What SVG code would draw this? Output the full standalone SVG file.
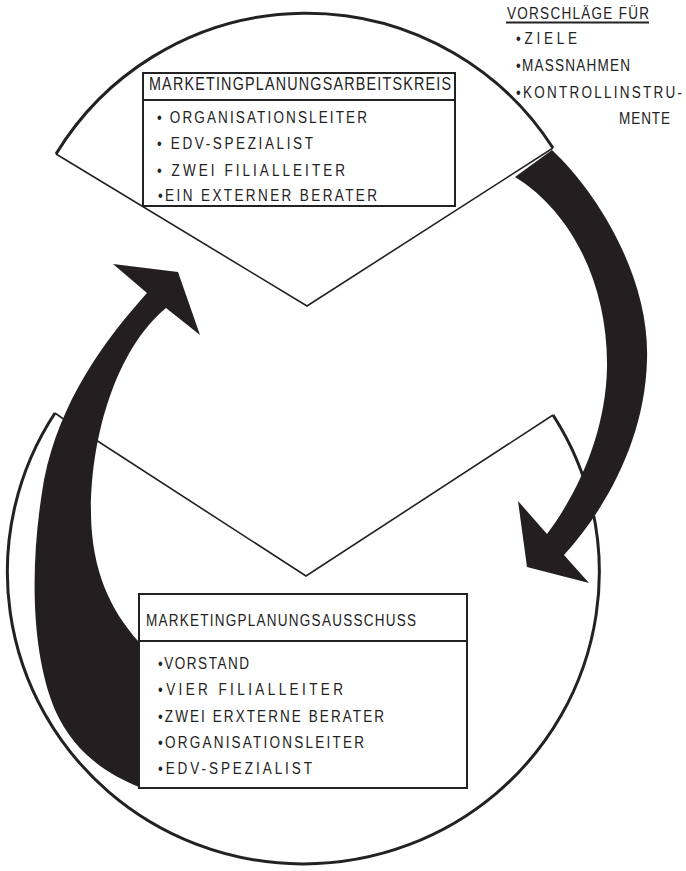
<svg xmlns="http://www.w3.org/2000/svg" width="686" height="871" viewBox="0 0 686 871">
<style>
  .arc { fill: none; stroke: #222; stroke-width: 3; }
  .vline { fill: none; stroke: #222; stroke-width: 1.6; }
  .box { fill: #fff; stroke: #222; stroke-width: 2; }
  .div { stroke: #222; stroke-width: 2; }
  .band { fill: #231f20; stroke: none; }
  text { font-family: "Liberation Sans", Arial, sans-serif; font-size: 16.5px; fill: #222; }
  .hdr1 { font-size: 17.5px; }
</style>
<rect width="686" height="871" fill="#fff"/>

<g id="pie-bottom">
  <path class="arc" d="M553,415 A296,292 0 1 1 55,413"/>
  <polyline class="vline" points="55,413 62,418 306,576 553,415"/>
</g>

<g id="wedge-top">
  <path d="M56,154 A293,293 0 0 1 553,148 L307,306 Z" fill="#fff" stroke="none"/>
  <path class="arc" d="M56,154 A293,293 0 0 1 553,148"/>
  <polyline class="vline" points="56,154 307,306 553,148"/>
</g>

<g id="connectors">
  <path id="arrow-right" class="band" d="M515,177 L552,150 C600,195 650,280 647,360 C645,440 605,510 564,555 L589,583 L527,567 L518,501 L547,534 C580,490 606,430 607,367 C608,285 572,212 515,177 Z"/>
  <path id="arrow-left" class="band" d="M147,293 C105,340 60,400 44,480 C30,560 30,650 55,710 C75,755 110,775 139,787 L139,642 C110,610 92,570 91,515 C90,440 115,350 166,308 L200,335 L178,272 L113,264 Z"/>
</g>

<g id="node-arbeitskreis">
  <rect class="box" x="143" y="73" width="312" height="133"/>
  <line class="div" x1="143" y1="100" x2="455" y2="100"/>
  <g transform="scale(0.82 1)">
    <text class="hdr1" x="181.7" y="90" textLength="368.3" lengthAdjust="spacing">MARKETINGPLANUNGSARBEITSKREIS</text>
    <text x="191.5" y="123" textLength="256.1" lengthAdjust="spacing">• ORGANISATIONSLEITER</text>
    <text x="191.5" y="149" textLength="190.2" lengthAdjust="spacing">• EDV-SPEZIALIST</text>
    <text x="191.5" y="176" textLength="229.3" lengthAdjust="spacing">• ZWEI FILIALLEITER</text>
    <text x="192.7" y="201" textLength="267.1" lengthAdjust="spacing">•EIN EXTERNER BERATER</text>
  </g>
</g>

<g id="node-ausschuss">
  <rect class="box" x="139" y="594" width="328" height="194"/>
  <line class="div" x1="139" y1="641" x2="467" y2="641"/>
  <g transform="scale(0.82 1)">
    <text x="178" y="626" textLength="329.3" lengthAdjust="spacing">MARKETINGPLANUNGSAUSSCHUSS</text>
    <text x="192.7" y="669" textLength="111" lengthAdjust="spacing">•VORSTAND</text>
    <text x="192.7" y="695" textLength="225.6" lengthAdjust="spacing">•VIER FILIALLEITER</text>
    <text x="192.7" y="722" textLength="275.6" lengthAdjust="spacing">•ZWEI ERXTERNE BERATER</text>
    <text x="192.7" y="748" textLength="251.2" lengthAdjust="spacing">•ORGANISATIONSLEITER</text>
    <text x="192.7" y="774" textLength="187.8" lengthAdjust="spacing">•EDV-SPEZIALIST</text>
  </g>
</g>

<g id="note-vorschlaege">
  <line x1="506" y1="22.5" x2="649" y2="22.5" stroke="#222" stroke-width="1.8"/>
  <g transform="scale(0.82 1)">
    <text x="618.3" y="19" textLength="173.2" lengthAdjust="spacing">VORSCHLÄGE FÜR</text>
    <text x="629.3" y="44" textLength="74.4" lengthAdjust="spacing">•ZIELE</text>
    <text x="629.3" y="71" textLength="139" lengthAdjust="spacing">•MASSNAHMEN</text>
    <text x="629.3" y="98" textLength="202.4" lengthAdjust="spacing">•KONTROLLINSTRU-</text>
    <text x="754.9" y="124" textLength="62.2" lengthAdjust="spacing">MENTE</text>
  </g>
</g>
</svg>
